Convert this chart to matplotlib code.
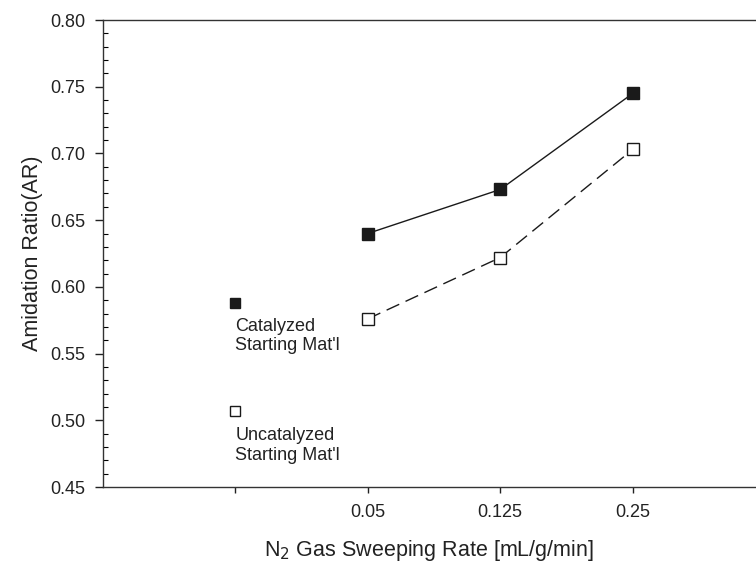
import matplotlib.pyplot as plt
from matplotlib.ticker import MultipleLocator

plt.rcParams['font.family'] = ['Liberation Sans', 'DejaVu Sans']

tick_labels = ["", "0.05", "0.125", "0.25"]
rate_pos = [1, 2, 3]
catalyzed = [0.640, 0.673, 0.745]
uncatalyzed = [0.576, 0.622, 0.703]
start_catalyzed = 0.588
start_uncatalyzed = 0.507

fig = plt.figure(figsize=(7.56, 5.64), dpi=100)
ax = fig.add_axes([0.1358, 0.1365, 0.8642, 0.828])

# lines with sweeping gas
ax.plot(rate_pos, catalyzed, color="#1a1a1a", lw=1.0, marker="s", ms=8,
        mfc="#1a1a1a", mec="#1a1a1a")
ax.plot(rate_pos, uncatalyzed, color="#1a1a1a", lw=1.0, ls=(0, (10, 5)),
        marker="s", ms=8, mfc="white", mec="#1a1a1a", mew=1.0)

# starting materials
ax.plot([0], [start_catalyzed], ls="none", marker="s", ms=7,
        mfc="#1a1a1a", mec="#1a1a1a")
ax.plot([0], [start_uncatalyzed], ls="none", marker="s", ms=7,
        mfc="white", mec="#1a1a1a", mew=1.0)
ax.text(0, 0.577, "Catalyzed\nStarting Mat'l", ha="left", va="top",
        fontsize=13, color="#222222", linespacing=1.2)
ax.text(0, 0.495, "Uncatalyzed\nStarting Mat'l", ha="left", va="top",
        fontsize=13, color="#222222", linespacing=1.2)

ax.set_xlim(-1, 3.93)
ax.set_ylim(0.45, 0.80)
ax.set_xticks(range(len(tick_labels)))
ax.set_xticklabels(tick_labels)
ax.yaxis.set_major_locator(MultipleLocator(0.05))
ax.yaxis.set_minor_locator(MultipleLocator(0.01))
ax.yaxis.set_major_formatter(plt.FormatStrFormatter("%.2f"))

ax.tick_params(axis="y", which="major", direction="out", length=5.5,
               width=1, pad=7, labelsize=13, colors="#222222")
ax.tick_params(axis="y", which="minor", direction="in", length=3.5, width=0.8)
ax.tick_params(axis="x", which="major", direction="out", length=4.5,
               width=1, pad=8, labelsize=13, colors="#222222")

ax.spines["right"].set_visible(False)
for s in ["left", "top", "bottom"]:
    ax.spines[s].set_linewidth(1.0)
    ax.spines[s].set_color("#333333")

ax.set_ylabel("Amidation Ratio(AR)", fontsize=15.5, color="#222222", labelpad=5)
ax.set_xlabel("N$_2$ Gas Sweeping Rate [mL/g/min]", fontsize=15.5,
              color="#222222", labelpad=12)

fig.savefig("out.png", dpi=100)
